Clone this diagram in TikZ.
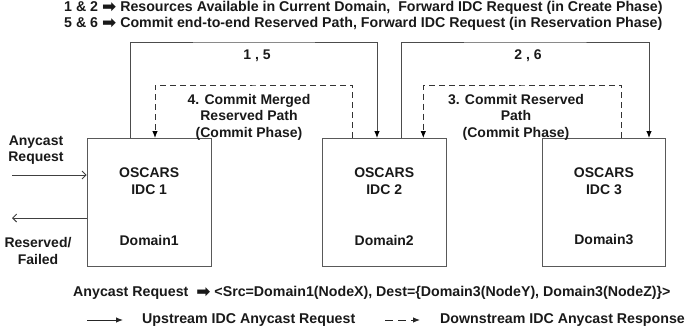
\documentclass[tikz,border=0pt]{standalone}
\usepackage{fontspec}
\setmainfont{Liberation Sans}
\newfontfamily\arrfont{DejaVu Sans}
\usetikzlibrary{arrows.meta}
\newcommand{\harr}{{\arrfont\fontsize{17}{17}\selectfont\raisebox{-0.5pt}{\char"27A1}}}
\tikzset{
  x=1pt,y=-1pt,
  idcbox/.style={draw=black!65,line width=0.9pt,fill=white},
  boxtxt/.style={font=\bfseries\fontsize{14}{17}\selectfont,text=black!90,align=center,inner sep=0pt},
  lbl/.style={font=\bfseries\fontsize{14}{16.5}\selectfont,text=black!90,align=center,inner sep=0pt},
  toptxt/.style={font=\bfseries\fontsize{14.2}{16}\selectfont,text=black!90,inner sep=0pt},
  solidcon/.style={draw=black!70,line width=0.9pt,-{Latex[length=7pt,width=5.5pt,color=black]}},
  dashcon/.style={draw=black!80,line width=0.9pt,dash pattern=on 6pt off 4pt,-{Latex[length=7pt,width=5.5pt,color=black]}},
  opencon/.style={draw=black!75,line width=0.9pt,-{Straight Barb[length=4pt,width=8pt]}},
}
\begin{document}
\begin{tikzpicture}
\useasboundingbox (0,0) rectangle (685,335);
% top legend lines
\node[toptxt,anchor=west] (t1) at (64,8) {1 \& 2 \harr{} Resources Available in Current Domain,\ \ Forward IDC Request (in Create Phase)};
\node[toptxt,anchor=west] (t2) at (64,24) {5 \& 6 \harr{} Commit end-to-end Reserved Path, Forward IDC Request (in Reservation Phase)};
% boxes
\node[idcbox,minimum width=124pt,minimum height=128pt,anchor=north west] (b1) at (86.7,138) {};
\node[idcbox,minimum width=123.5pt,minimum height=128pt,anchor=north west] (b2) at (322,138) {};
\node[idcbox,minimum width=123.5pt,minimum height=128pt,anchor=north west] (b3) at (541.7,138) {};
\foreach \b/\n in {b1/1,b2/2,b3/3}{
  \node[boxtxt] (\b o) at ([yshift=-43.5pt]\b.north) {OSCARS\\IDC \n};
  \node[boxtxt] (\b d) at ([yshift=-102pt]\b.north) {Domain\n};
}
% coordinates for connectors
\coordinate (s1) at (130.7,138);
\coordinate (e1) at (377,138);
\coordinate (s2) at (401.7,138);
\coordinate (e2) at (649,138);
\coordinate (d4s) at (352.7,138);
\coordinate (d4e) at (155,138);
\coordinate (d3s) at (621.7,138);
\coordinate (d3e) at (423.3,138);
\draw[solidcon] (s1) |- (254,42) -| (e1);
\draw[solidcon] (s2) |- (525,42) -| (e2);
\draw[dashcon] (d4s) |- (254,85) -| (d4e);
\draw[dashcon] (d3s) |- (522,85) -| (d3e);
\node[lbl] (l15) at (257,56) {1 , 5};
\node[lbl] (l26) at (528,56) {2 , 6};
\node[lbl] (l4) at (249,117) {4. Commit Merged\\Reserved Path\\(Commit Phase)};
\node[lbl] (l3) at (516,117) {3. Commit Reserved\\Path\\(Commit Phase)};
% left side
\node[lbl] (areq) at (36,150) {Anycast\\Request};
\node[lbl] (resf) at (38,251) {Reserved/\\Failed};
\coordinate (ain) at (12,175);
\coordinate (aout) at (12,218);
\draw[opencon] (ain) -- (ain -| b1.west);
\draw[opencon] (aout -| b1.west) -- (aout);
% bottom
\node[toptxt,anchor=west] (anyreq) at (73,293) {Anycast Request\ \ \harr{} <Src=Domain1(NodeX), Dest=\{Domain3(NodeY), Domain3(NodeZ)\}>};
\coordinate (ls1) at (87,320);
\coordinate (ls2) at (123,320);
\coordinate (ld1) at (385,320);
\coordinate (ld2) at (420,320);
\draw[draw=black!85,line width=0.9pt,-{Latex[length=7pt,width=5.5pt]}] (ls1) -- (ls2);
\draw[draw=black!85,line width=0.9pt,dash pattern=on 8pt off 5pt,-{Latex[length=7pt,width=5.5pt]}] (ld1) -- (ld2);
\node[toptxt,anchor=west] (up) at (142,320) {Upstream IDC Anycast Request};
\node[toptxt,anchor=west] (down) at (440,320) {Downstream IDC Anycast Response};
\end{tikzpicture}
\end{document}
